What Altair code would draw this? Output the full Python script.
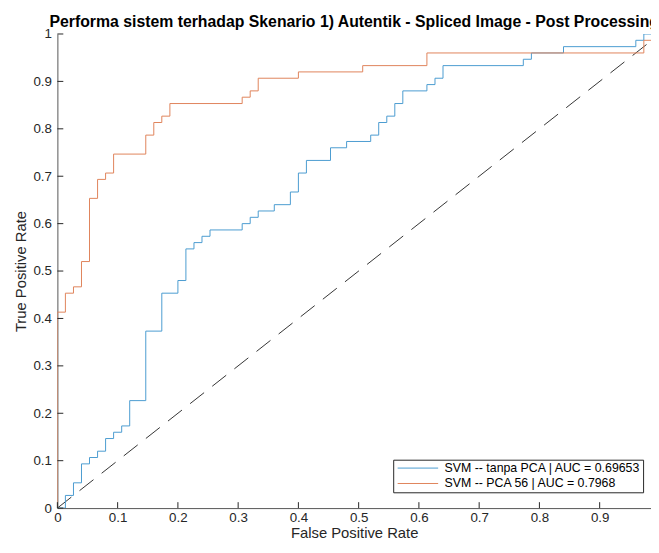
import altair as alt
import pandas as pd

# ---- data ----
series_names = ["SVM -- tanpa PCA | AUC = 0.69653", "SVM -- PCA 56 | AUC = 0.7968"]
series_colors = ["#4a9bd0", "#e0835a"]

blue_fpr = [0, 0.0133, 0.0267, 0.04, 0.0533, 0.0667, 0.08, 0.0933, 0.1067, 0.12,
            0.1467, 0.1733, 0.2, 0.2133, 0.2267, 0.24, 0.2533, 0.3067, 0.32, 0.3333,
            0.36, 0.3867, 0.4, 0.4133, 0.4533, 0.48, 0.52, 0.5333, 0.5467, 0.56,
            0.5733, 0.6133, 0.6267, 0.64, 0.7733, 0.7867, 0.84, 0.96, 0.9733, 1.0]
blue_tpr = [0, 0.0267, 0.0533, 0.0933, 0.1067, 0.12, 0.1467, 0.16, 0.1733, 0.2267,
            0.3733, 0.4533, 0.48, 0.5467, 0.56, 0.5733, 0.5867, 0.6, 0.6133, 0.6267,
            0.64, 0.6667, 0.7067, 0.7333, 0.76, 0.7733, 0.7867, 0.8133, 0.8267, 0.8533,
            0.88, 0.8933, 0.9067, 0.9333, 0.9467, 0.96, 0.9733, 0.9867, 1.0, 1.0]

orange_fpr = [0, 0, 0.0133, 0.0267, 0.04, 0.0533, 0.0667, 0.08, 0.0933, 0.1467,
              0.16, 0.1733, 0.1867, 0.3067, 0.32, 0.3333, 0.4, 0.5067, 0.6133, 0.9733, 1.0]
orange_tpr = [0, 0.4133, 0.4533, 0.4667, 0.52, 0.6533, 0.6933, 0.7067, 0.7467, 0.7867,
              0.8133, 0.8267, 0.8533, 0.8667, 0.88, 0.9067, 0.92, 0.9333, 0.96, 0.9867, 1.0]

diag_x = [0, 1]
diag_y = [0, 1]

x_ticks = [0, 0.1, 0.2, 0.3, 0.4, 0.5, 0.6, 0.7, 0.8, 0.9]
y_ticks = [0, 0.1, 0.2, 0.3, 0.4, 0.5, 0.6, 0.7, 0.8, 0.9, 1.0]

title_text = "Performa sistem terhadap Skenario 1) Autentik - Spliced Image - Post Processing"

# ---- layout ----
XMAX = 0.9852
W, H = 601, 480
FONT = "Liberation Sans"
AX = "#262626"

rows = []
for i, (x, y) in enumerate(zip(blue_fpr, blue_tpr)):
    rows.append({"series": series_names[0], "fpr": x, "tpr": y, "idx": i})
for i, (x, y) in enumerate(zip(orange_fpr, orange_tpr)):
    rows.append({"series": series_names[1], "fpr": x, "tpr": y, "idx": i})
df = pd.DataFrame(rows)
diag = pd.DataFrame({"fpr": diag_x, "tpr": diag_y})
xt = pd.DataFrame({"fpr": x_ticks})
yt = pd.DataFrame({"tpr": y_ticks})

xscale = alt.Scale(domain=[0, XMAX], nice=False, zero=False)
yscale = alt.Scale(domain=[0, 1], nice=False, zero=False)
xaxis = alt.Axis(values=x_ticks, format=".1~f", title="False Positive Rate", ticks=False,
                 tickSize=0, grid=False, labelFlush=False, labelOverlap=False,
                 labelPadding=3, titlePadding=1)
yaxis = alt.Axis(values=y_ticks, format=".1~f", title="True Positive Rate", ticks=False,
                 tickSize=0, grid=False, labelFlush=False, labelOverlap=False,
                 labelPadding=6, titlePadding=5)
X = alt.X("fpr:Q", scale=xscale, axis=xaxis)
Y = alt.Y("tpr:Q", scale=yscale, axis=yaxis)

lines = alt.Chart(df).mark_line(interpolate="step-after", strokeWidth=1, clip=True).encode(
    x=X, y=Y, order=alt.Order("idx:Q"),
    color=alt.Color("series:N",
                    scale=alt.Scale(domain=series_names, range=series_colors),
                    legend=alt.Legend(orient="none", legendX=340, legendY=431, title=None,
                                      symbolType="stroke", symbolSize=1681,
                                      symbolStrokeWidth=1, symbolOffset=2,
                                      labelFont=FONT, labelFontSize=12.5, labelColor="#000",
                                      labelLimit=400, clipHeight=13,
                                      strokeColor=AX, fillColor="white", padding=2,
                                      labelOffset=6, rowPadding=2.6, cornerRadius=0)),
)

diagonal = alt.Chart(diag).mark_line(color="#333333", strokeWidth=1, strokeDash=[18, 10.5],
                                     clip=True).encode(x=X, y=Y)

xtick_marks = alt.Chart(xt).mark_rule(color=AX, strokeWidth=1).encode(
    x=X, y=alt.value(H), y2=alt.value(H - 6))
ytick_marks = alt.Chart(yt).mark_rule(color=AX, strokeWidth=1).encode(
    y=Y, x=alt.value(0), x2=alt.value(6))

chart = alt.layer(diagonal, lines, xtick_marks, ytick_marks).properties(
    width=W, height=H,
    title=alt.TitleParams(title_text, anchor="start", frame="group", dx=-8, dy=16, offset=0,
                          align="left", baseline="alphabetic", font=FONT, fontSize=16,
                          fontWeight="bold", color="#000"),
    autosize=alt.AutoSizeParams(type="none"),
    padding={"left": 50, "top": 23, "right": 0, "bottom": 30},
).configure_view(strokeWidth=0).configure_title(
    anchor="start", frame="group",
).configure_axis(
    domainColor="#555555", domainWidth=1, labelColor=AX, titleColor=AX,
    labelFont=FONT, titleFont=FONT, labelFontSize=13.5, titleFontSize=15,
    titleFontWeight="normal",
)

chart.save("out.html", embed_options={"renderer": "svg", "actions": False})
